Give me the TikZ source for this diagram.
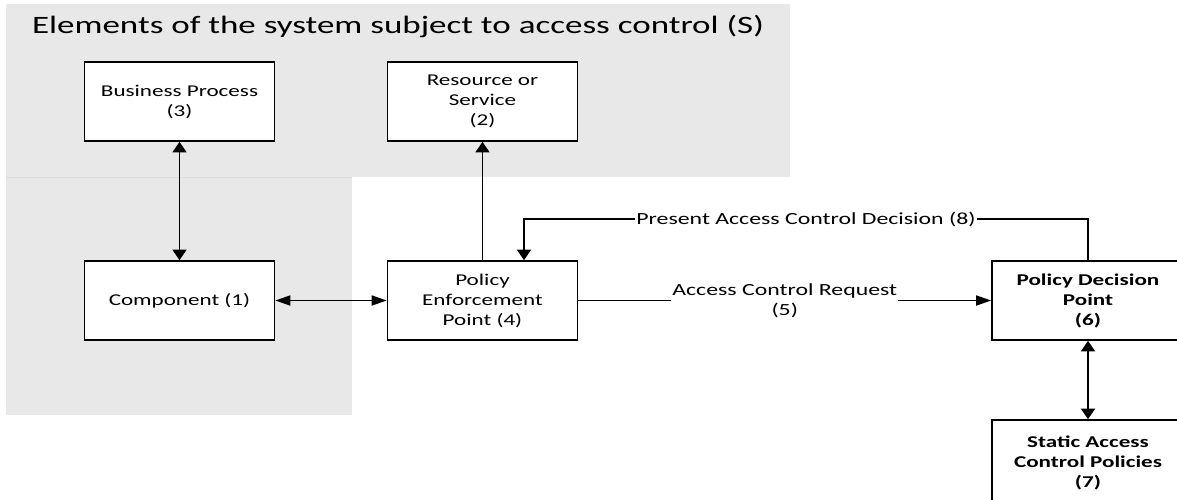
\documentclass[tikz,border=0pt]{standalone}
\usepackage{fontspec}
\setmainfont{Carlito}[FakeStretch=1.4]
\usetikzlibrary{arrows.meta}
\definecolor{panelgray}{RGB}{232,232,232}
\definecolor{seamgray}{RGB}{220,220,220}
\begin{document}
\begin{tikzpicture}[x=1pt,y=-1pt,
  vtri/.tip={Triangle[length=10.5pt,width=14pt]},
  htri/.tip={Triangle[length=15pt,width=10pt]},
  box/.style={draw, line width=1.7pt, fill=white, minimum width=190pt,
    minimum height=79pt, inner sep=0pt, align=center,
    font=\fontsize{16.5}{20}\selectfont},
  boldbox/.style={box, minimum width=192pt, font=\fontsize{16.5}{20}\selectfont\bfseries},
  conn/.style={line width=1.7pt},
  lbl/.style={fill=white, inner sep=1pt, align=center,
    font=\fontsize{17}{20}\selectfont}]
  \useasboundingbox (0,0) rectangle (1177,499);
  \clip (0,0) rectangle (1177,499);

  % shaded areas: elements subject to access control
  \fill[panelgray] (6,4) rectangle (790,177.3);
  \fill[panelgray] (6,177.3) rectangle (352,415);
  \draw[seamgray, line width=0.8pt] (6,177) -- (352,177);

  \node[anchor=base, font=\fontsize{25}{30}\selectfont] (title) at (398,33)
    {Elements of the system subject to access control (S)};

  % blocks
  \node[box] (bp)  at (179.5,101.5) {Business Process\\(3)};
  \node[box] (res) at (482.5,101.5) {Resource or\\Service\\(2)};
  \node[box] (comp) at (179.5,300.5) {Component (1)};
  \node[box] (pep) at (482.5,300.5) {Policy\\Enforcement\\Point (4)};
  \node[boldbox] (pdp) at (1088,300.5) {Policy Decision\\Point\\(6)};
  \node[boldbox, minimum height=86pt] (stat) at (1088,463) {Static Access\\Control Policies\\(7)};

  % connectors
  \draw[conn, vtri-vtri] (bp) -- (comp);
  \draw[conn, -vtri] (pep) -- (res);
  \draw[conn, htri-htri] (comp) -- (pep);
  \draw[conn, -htri] (pep) -- node[lbl] (req) {Access Control Request\\(5)} (pdp);
  \coordinate (fbR) at (1088,219);
  \coordinate (fbL) at (524,219);
  \draw[conn, -vtri] (pdp.north) -- (fbR)
    -- node[lbl] (dec) {Present Access Control Decision (8)} (fbL)
    -- (pep.north -| fbL);
  \draw[conn, vtri-vtri] (pdp) -- (stat);
\end{tikzpicture}
\end{document}
